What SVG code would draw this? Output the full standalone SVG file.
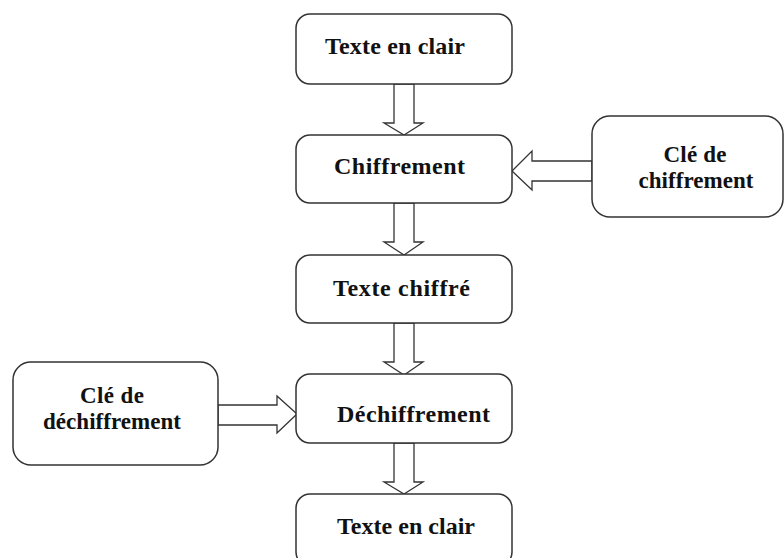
<svg xmlns="http://www.w3.org/2000/svg" width="784" height="558" viewBox="0 0 784 558">
<style>
.box{fill:#fff;stroke:#333;stroke-width:1.5}
.arr{fill:#fff;stroke:#333;stroke-width:1.3;stroke-linejoin:miter}
.t{font-family:"Liberation Serif","Times New Roman",serif;font-weight:bold;font-size:24px;fill:#111}
.k{font-family:"Liberation Serif","Times New Roman",serif;font-weight:bold;font-size:23px;fill:#111;text-anchor:middle}
</style>
<rect width="784" height="558" fill="#fff"/>
<g id="connectors">
<polygon class="arr" points="394,84 414,84 414,123 423,123 404,135 384,123 394,123"/>
<polygon class="arr" points="394,203 414,203 414,242 423,242 404,255 384,242 394,242"/>
<polygon class="arr" points="394,323 414,323 414,362 423,362 404,375 384,362 394,362"/>
<polygon class="arr" points="394,443 414,443 414,482 423,482 404,494 384,482 394,482"/>
<polygon class="arr" points="592,161 532,161 532,151 512,171 532,190 532,181 592,181"/>
<polygon class="arr" points="218,405 277,405 277,396 297,414 277,433 277,425 218,425"/>
</g>
<g id="n1"><rect class="box" x="296" y="14" width="216" height="70" rx="14"/><text class="t" x="325" y="54" textLength="140" lengthAdjust="spacing">Texte en clair</text></g>
<g id="n2"><rect class="box" x="296" y="135" width="216" height="68" rx="14"/><text class="t" x="334" y="174" textLength="131" lengthAdjust="spacing">Chiffrement</text></g>
<g id="n3"><rect class="box" x="296" y="255" width="216" height="68" rx="14"/><text class="t" x="333" y="296" textLength="137" lengthAdjust="spacing">Texte chiffré</text></g>
<g id="n4"><rect class="box" x="296" y="374" width="216" height="69" rx="14"/><text class="t" x="337" y="422" textLength="153" lengthAdjust="spacing">Déchiffrement</text></g>
<g id="n5"><rect class="box" x="296" y="494" width="216" height="72" rx="14"/><text class="t" x="337" y="534" textLength="138" lengthAdjust="spacing">Texte en clair</text></g>
<g id="k1"><rect class="box" x="592" y="116" width="191" height="101" rx="18"/><text class="k" x="695" y="162" textLength="63" lengthAdjust="spacing">Clé de</text><text class="k" x="696" y="188" textLength="115" lengthAdjust="spacing">chiffrement</text></g>
<g id="k2"><rect class="box" x="13" y="362" width="205" height="103" rx="18"/><text class="k" x="112" y="403" textLength="64" lengthAdjust="spacing">Clé de</text><text class="k" x="112" y="429" textLength="138" lengthAdjust="spacing">déchiffrement</text></g>
</svg>
